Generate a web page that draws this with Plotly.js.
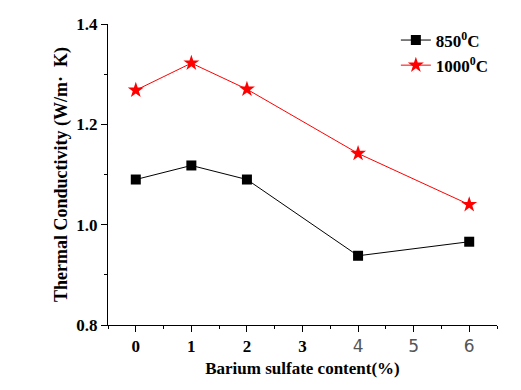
<!DOCTYPE html>
<html><head><meta charset="utf-8">
<script src="https://cdn.plot.ly/plotly-3.0.1.min.js"></script>
<style>html,body{margin:0;padding:0;background:#fff}#chart{width:521px;height:390px}</style>
</head><body><div id="chart"></div>
<script>
const content = [0, 1, 2, 4, 6];
const cond850 = [1.09, 1.118, 1.09, 0.938, 0.966];
const cond1000 = [1.268, 1.322, 1.27, 1.142, 1.04];
const xTickVals = [0, 1, 2, 3, 4, 5, 6];
const xTickText = ['0', '1', '2', '3',
  '<span style="font-family:DejaVu Sans;font-weight:normal;color:#555">4</span>',
  '<span style="font-family:DejaVu Sans;font-weight:normal;color:#555">5</span>',
  '<span style="font-family:DejaVu Sans;font-weight:normal;color:#555">6</span>'];
const yTickVals = [0.8, 1.0, 1.2, 1.4];
const yTickText = ['0.8', '1.0', '1.2', '1.4'];
const names = ['850<sup>0</sup>C', '1000<sup>0</sup>C'];

const font = 'Liberation Serif, Times New Roman, serif';
const traces = [
  {x: content, y: cond850, name: names[0], mode: 'lines+markers',
   line: {color: '#000', width: 1}, marker: {symbol: 'square', size: 10, color: '#000'}},
  {x: content, y: cond1000, name: names[1], mode: 'lines+markers',
   line: {color: '#ff0000', width: 1}, marker: {symbol: 'star', size: 12, color: '#ff0000'}}
];
const layout = {
  width: 521, height: 390,
  margin: {l: 108, r: 24, t: 24, b: 65},
  paper_bgcolor: '#fff', plot_bgcolor: '#fff',
  font: {family: font, color: '#000', size: 16, weight: 'bold'},
  showlegend: true,
  legend: {x: 0.74, y: 1.005, xanchor: 'left', yanchor: 'top', bgcolor: 'rgba(0,0,0,0)',
    font: {family: font, size: 17, weight: 'bold'}, itemwidth: 30, tracegroupgap: 2},
  xaxis: {range: [-0.5, 6.5], tickvals: xTickVals, ticktext: xTickText,
    showline: true, linecolor: '#000', linewidth: 1, showgrid: false, zeroline: false,
    ticks: 'outside', ticklen: 6, tickcolor: '#000',
    minor: {dtick: 0.5, ticks: 'outside', ticklen: 3, tickcolor: '#000'},
    tickfont: {family: font, size: 17, weight: 'bold'},
    title: {text: 'Barium sulfate content(%)', font: {family: font, size: 17, weight: 'bold'}, standoff: 6}},
  yaxis: {range: [0.8, 1.4], tickvals: yTickVals, ticktext: yTickText,
    showline: true, linecolor: '#000', linewidth: 1, showgrid: false, zeroline: false,
    ticks: 'outside', ticklen: 6, tickcolor: '#000',
    minor: {dtick: 0.1, ticks: 'outside', ticklen: 3, tickcolor: '#000'},
    tickfont: {family: font, size: 17, weight: 'bold'},
    title: {text: 'Thermal Conductivity\u00a0(W/m·\u00a0\u00a0K)', font: {family: font, size: 18, weight: 'bold'}, standoff: 4}}
};
Plotly.newPlot('chart', traces, layout, {displayModeBar: false, staticPlot: true});
</script></body></html>
